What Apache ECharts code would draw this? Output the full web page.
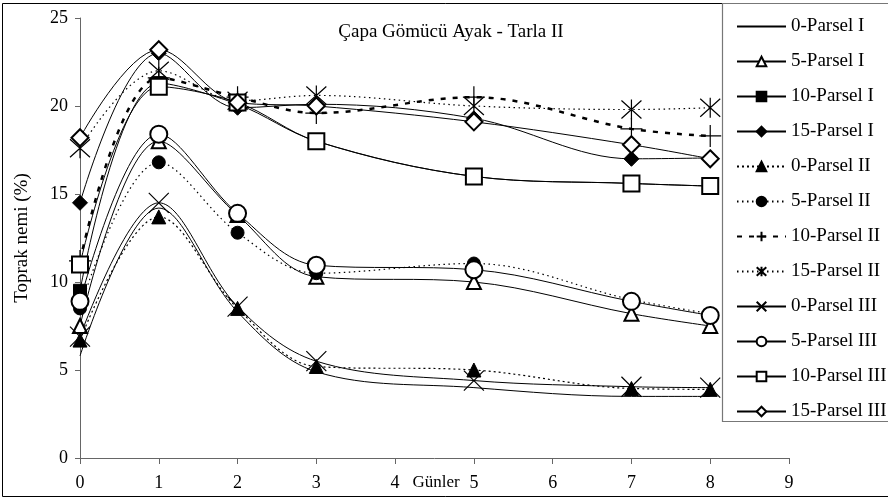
<!DOCTYPE html>
<html>
<head>
<meta charset="utf-8">
<script src="https://cdn.jsdelivr.net/npm/echarts@6/dist/echarts.min.js"></script>
<style>
  html, body { margin: 0; padding: 0; background: #fff; }
  #chart { width: 888px; height: 500px; }
</style>
</head>
<body>
<div id="chart"></div>
<script>
// Sampling days (x axis)
const days = [0, 1, 2, 3, 5, 7, 8];

// Soil moisture (%) per depth (cm) and parcel
const parselI_0   = [5.8, 14.2, 8.3, 4.9, 4.0, 3.5, 3.5];
const parselI_5   = [7.5, 18.0, 13.8, 10.3, 10.0, 8.2, 7.5];
const parselI_10  = [9.5, 21.3, 20.1, 18.0, 16.0, 15.6, 15.45];
const parselI_15  = [14.5, 23.0, 19.9, 20.1, 19.3, 17.0, 17.05];
const parselII_0  = [6.7, 13.7, 8.5, 5.2, 5.0, 3.95, 3.9];
const parselII_5  = [8.5, 16.8, 12.8, 10.5, 11.05, 9.0, 8.2];
const parselII_10 = [11.2, 21.6, 20.5, 19.6, 20.5, 18.7, 18.3];
const parselII_15 = [17.6, 22.0, 20.3, 20.6, 20.0, 19.8, 19.9];
const parselIII_0  = [6.9, 14.5, 8.6, 5.5, 4.4, 4.05, 4.0];
const parselIII_5  = [8.9, 18.4, 13.9, 10.95, 10.7, 8.9, 8.1];
const parselIII_10 = [11.0, 21.1, 20.2, 18.0, 16.0, 15.6, 15.45];
const parselIII_15 = [18.2, 23.2, 20.2, 20.0, 19.1, 17.8, 17.0];

const seriesNames = [
  '0-Parsel I', '5-Parsel I', '10-Parsel I', '15-Parsel I',
  '0-Parsel II', '5-Parsel II', '10-Parsel II', '15-Parsel II',
  '0-Parsel III', '5-Parsel III', '10-Parsel III', '15-Parsel III'
];

const titleText = 'Çapa Gömücü Ayak - Tarla II';
const xName = 'Günler';
const yName = 'Toprak nemi (%)';

const FONT = 'Liberation Serif';

// stroked marker shapes
const PLUS = 'path://M10 0L10 20M0 10L20 10';
const CROSS = 'path://M0 0L20 20M20 0L0 20';
const STAR = 'path://M1 1L19 19M19 1L1 19M10 0L10 20';

function line(name, values, symbol, size, lineStyle, opts) {
  opts = opts || {};
  return {
    name: name,
    type: 'line',
    smooth: 0.35,
    data: days.map((d, i) => [d, values[i]]),
    symbol: symbol,
    symbolSize: size,
    showSymbol: symbol !== 'none',
    lineStyle: Object.assign({ color: '#000', width: 1, type: 'solid' }, lineStyle),
    itemStyle: {
      color: opts.fill || '#000',
      borderColor: '#000',
      borderWidth: opts.bw || 1
    },
    emphasis: { disabled: true },
    animation: false
  };
}

const dot = { type: [2, 3], width: 1.2 };
const fineDot = { type: [1.5, 3.5], width: 1.2 };
const heavyDash = { type: [5, 7], width: 2.5 };

const series = [
  line(seriesNames[0], parselI_0, 'none', 0, {}),
  line(seriesNames[1], parselI_5, 'emptyTriangle', 14, {}),
  line(seriesNames[2], parselI_10, 'rect', 13, {}),
  line(seriesNames[3], parselI_15, 'diamond', 15, {}),
  line(seriesNames[4], parselII_0, 'triangle', 14, dot),
  line(seriesNames[5], parselII_5, 'circle', 13, fineDot),
  line(seriesNames[6], parselII_10, PLUS, 22, heavyDash, { fill: 'none', bw: 1.2 }),
  line(seriesNames[7], parselII_15, STAR, 20, fineDot, { fill: 'none', bw: 1.2 }),
  line(seriesNames[8], parselIII_0, CROSS, 20, {}, { fill: 'none', bw: 1.2 }),
  line(seriesNames[9], parselIII_5, 'emptyCircle', 17, {}),
  line(seriesNames[10], parselIII_10, 'emptyRect', 16, {}),
  line(seriesNames[11], parselIII_15, 'emptyDiamond', 17, {})
];

// legend entries; the plain line keeps its stroke but shows no marker
const legendData = seriesNames.map((n, i) => i === 0
  ? { name: n, itemStyle: { color: 'rgba(0,0,0,0)', borderColor: 'rgba(0,0,0,0)', borderWidth: 0 } }
  : { name: n });

const chart = echarts.init(document.getElementById('chart'), null, { renderer: 'canvas' });
chart.setOption({
  backgroundColor: '#fff',
  animation: false,
  grid: { left: 80, top: 18, width: 709, height: 440, containLabel: false, outerBoundsMode: 'none' },
  xAxis: {
    type: 'value', min: 0, max: 9, interval: 1,
    axisLine: { show: true, lineStyle: { color: '#666', width: 1 } },
    axisTick: { show: true, length: 6, lineStyle: { color: '#666' } },
    axisLabel: { fontFamily: FONT, fontSize: 18, color: '#000', margin: 16 },
    splitLine: { show: false }
  },
  yAxis: {
    type: 'value', min: 0, max: 25, interval: 5,
    name: yName, nameLocation: 'middle', nameGap: 48, nameMoveOverlap: false,
    nameTextStyle: { fontFamily: FONT, fontSize: 19, color: '#000' },
    axisLine: { show: true, lineStyle: { color: '#666', width: 1 } },
    axisTick: { show: true, length: 5, lineStyle: { color: '#666' } },
    axisLabel: { fontFamily: FONT, fontSize: 18, color: '#000', margin: 12 },
    splitLine: { show: false }
  },
  legend: {
    data: legendData,
    orient: 'vertical',
    left: 736, top: 17, padding: 0,
    itemWidth: 49, itemHeight: 12, itemGap: 16,
    selectedMode: false,
    textStyle: { fontFamily: FONT, fontSize: 19, lineHeight: 19, color: '#000' }
  },
  graphic: [
    { type: 'rect', shape: { x: 2.5, y: 3.5, width: 900, height: 493 },
      style: { fill: 'none', stroke: '#000', lineWidth: 1 }, silent: true },
    { type: 'rect', shape: { x: 722.5, y: 3.5, width: 200, height: 418 },
      style: { fill: 'none', stroke: '#777', lineWidth: 1.2 }, silent: true },
    { type: 'text', x: 436, y: 483,
      style: { text: xName, font: '17px "Liberation Serif"',
               fill: '#000', align: 'center', verticalAlign: 'middle' }, silent: true },
    { type: 'text', x: 451, y: 32,
      style: { text: titleText, font: '19px "Liberation Serif"',
               fill: '#000', align: 'center', verticalAlign: 'middle' }, silent: true }
  ],
  series: series
});
</script>
</body>
</html>
